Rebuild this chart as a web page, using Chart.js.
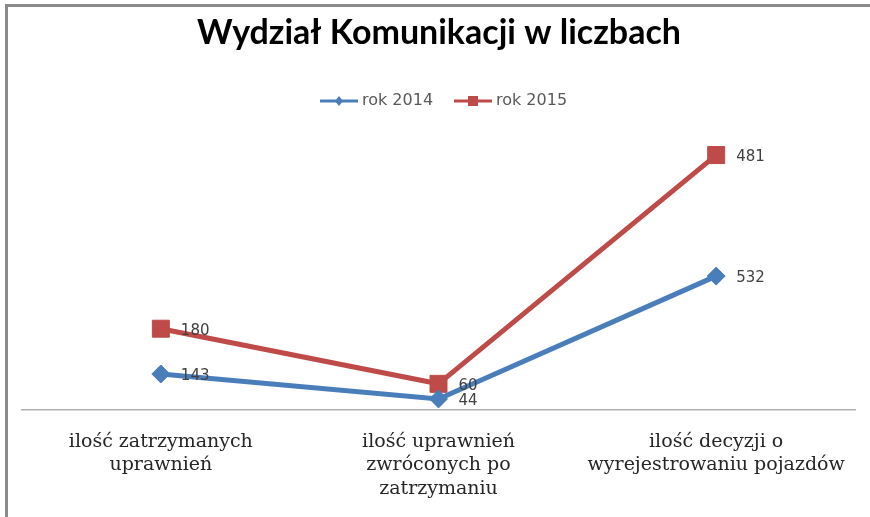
<!DOCTYPE html>
<html>
<head>
<meta charset="utf-8">
<script src="https://cdn.jsdelivr.net/npm/chart.js@4"></script>
<style>
  html, body { margin: 0; padding: 0; background: #fff; }
  #wrap { position: relative; width: 870px; height: 517px; }
</style>
</head>
<body>
<div id="wrap"><canvas id="wykres"></canvas></div>
<script>
const kategorie = [
    ['ilość zatrzymanych', 'uprawnień'],
    ['ilość uprawnień', 'zwróconych po', 'zatrzymaniu'],
    ['ilość decyzji o', 'wyrejestrowaniu pojazdów']
];
const rok2014 = [143, 44, 532];
const rok2015 = [180, 60, 481];
const nazwySerii = ['rok 2014', 'rok 2015'];
const tytul = 'Wydział Komunikacji w liczbach';

const NIEBIESKI = '#4a7ebb';
const CZERWONY = '#be4b48';

// ramka, tytul, legenda i etykiety wartosci
const dodatki = {
    id: 'dodatki',
    beforeDraw(chart) {
        const ctx = chart.ctx;
        ctx.save();
        ctx.fillStyle = '#8a8a8a';
        ctx.fillRect(5, 4, 3, 513);
        ctx.fillRect(5, 4, 865, 3);
        ctx.restore();
    },
    afterDraw(chart) {
        const ctx = chart.ctx;
        ctx.save();

        // tytul
        ctx.fillStyle = '#000';
        ctx.font = 'bold 34px Lato';
        ctx.textAlign = 'center';
        ctx.textBaseline = 'alphabetic';
        ctx.fillText(tytul, 439, 44);

        // legenda
        const wpisy = [
            { x: 320, kolor: NIEBIESKI, ksztalt: 'romb' },
            { x: 454, kolor: CZERWONY, ksztalt: 'kwadrat' }
        ];
        const ly = 101;
        ctx.font = '16px "DejaVu Sans"';
        ctx.textAlign = 'left';
        ctx.textBaseline = 'middle';
        wpisy.forEach((w, i) => {
            ctx.strokeStyle = w.kolor;
            ctx.lineWidth = 3;
            ctx.beginPath();
            ctx.moveTo(w.x, ly);
            ctx.lineTo(w.x + 38, ly);
            ctx.stroke();
            ctx.fillStyle = w.kolor;
            const cx = w.x + 19;
            if (w.ksztalt === 'romb') {
                ctx.beginPath();
                ctx.moveTo(cx, ly - 5);
                ctx.lineTo(cx + 4, ly);
                ctx.lineTo(cx, ly + 5);
                ctx.lineTo(cx - 4, ly);
                ctx.closePath();
                ctx.fill();
            } else {
                ctx.fillRect(cx - 5, ly - 5, 10, 10);
            }
            ctx.fillStyle = '#595959';
            ctx.fillText(nazwySerii[i], w.x + 42, ly);
        });

        // etykiety wartosci
        ctx.font = '15px "DejaVu Sans"';
        ctx.fillStyle = '#404040';
        chart.data.datasets.forEach((ds, di) => {
            const meta = chart.getDatasetMeta(di);
            meta.data.forEach((pt, i) => {
                ctx.fillText(String(ds.data[i]), pt.x + 20, pt.y + 2);
            });
        });
        ctx.restore();
    }
};

new Chart(document.getElementById('wykres').getContext('2d'), {
    type: 'line',
    data: {
        labels: kategorie,
        datasets: [{
            label: nazwySerii[0],
            data: rok2014,
            borderColor: NIEBIESKI,
            backgroundColor: NIEBIESKI,
            borderWidth: 5,
            pointStyle: 'rectRot',
            pointRadius: 9,
            pointBorderWidth: 1,
            fill: false,
            tension: 0
        }, {
            label: nazwySerii[1],
            data: rok2015,
            borderColor: CZERWONY,
            backgroundColor: CZERWONY,
            borderWidth: 5,
            pointStyle: 'rect',
            pointRadius: 12,
            pointBorderWidth: 1,
            fill: false,
            tension: 0
        }]
    },
    options: {
        responsive: true,
        maintainAspectRatio: false,
        animation: false,
        devicePixelRatio: 1,
        layout: { padding: { left: 22, right: 15, top: 108, bottom: 0 } },
        plugins: {
            legend: { display: false },
            title: { display: false },
            tooltip: { enabled: false }
        },
        scales: {
            x: {
                offset: true,
                grid: { display: false, drawTicks: false, offset: true },
                border: { display: true, color: '#b0b0b0', width: 1.5 },
                ticks: {
                    color: '#262626',
                    padding: 20,
                    maxRotation: 0,
                    autoSkip: false,
                    font: { family: '"DejaVu Serif"', size: 19, lineHeight: 1.24 }
                },
                afterFit(scale) { scale.height = 107; }
            },
            y: {
                display: false,
                stacked: true,
                min: 0,
                max: 1200
            }
        }
    },
    plugins: [dodatki]
});
</script>
</body>
</html>
